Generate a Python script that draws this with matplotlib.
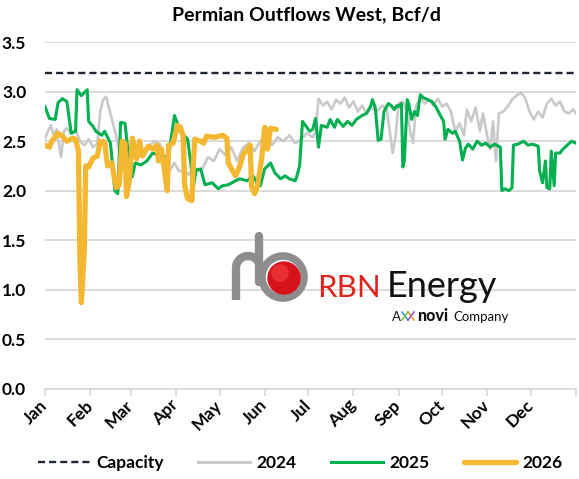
import numpy as np
import matplotlib
matplotlib.use("Agg")
import matplotlib.pyplot as plt
from matplotlib.lines import Line2D
from matplotlib.patches import Circle, Arc
import matplotlib.transforms as mtransforms

plt.rcParams['font.family'] = ['Lato', 'DejaVu Sans']

# ---------------- data (day of year, Bcf/d) ----------------
months = ["Jan", "Feb", "Mar", "Apr", "May", "Jun", "Jul", "Aug", "Sep", "Oct", "Nov", "Dec"]
month_start_days = [0, 31, 59, 90, 120, 151, 181, 212, 243, 273, 304, 334, 365]
capacity = 3.19

days_2024 = [0, 2, 4, 6, 8, 11, 13, 15, 18, 21, 24, 27, 30, 33, 36, 38, 40, 42, 44, 46, 49, 51, 53, 56,
             60, 64, 68, 72, 76, 79, 82, 86, 89, 92, 96, 99, 102, 105, 108, 112, 116, 120, 124, 128,
             132, 136, 140, 144, 148, 152, 156, 160, 164, 168, 172, 176, 180, 184, 186, 188, 191, 194,
             197, 200, 203, 206, 209, 212, 215, 218, 221, 224, 228, 232, 235, 237, 239, 241, 243, 246,
             249, 251, 253, 255, 258, 261, 264, 267, 270, 273, 276, 279, 282, 285, 288, 290, 293, 296,
             299, 301, 304, 306, 308, 310, 312, 315, 318, 321, 324, 327, 330, 333, 336, 339, 342, 345,
             348, 351, 354, 357, 360, 363, 365]
vals_2024 = [2.53, 2.60, 2.66, 2.56, 2.62, 2.34, 2.60, 2.63, 2.58, 2.62, 2.50, 2.46, 2.52, 2.44, 2.48,
             2.80, 2.92, 2.95, 2.83, 2.72, 2.55, 2.40, 2.35, 2.45, 2.40, 2.45, 2.40, 2.46, 2.50, 2.47,
             2.30, 2.21, 2.28, 2.20, 2.20, 2.16, 2.24, 2.20, 2.22, 2.34, 2.30, 2.42, 2.36, 2.44, 2.30,
             2.43, 2.48, 2.40, 2.50, 2.56, 2.46, 2.54, 2.50, 2.56, 2.48, 2.52, 2.58, 2.54, 2.60, 2.93,
             2.86, 2.90, 2.82, 2.92, 2.88, 2.94, 2.84, 2.90, 2.80, 2.86, 2.78, 2.84, 2.80, 2.86, 2.82,
             2.60, 2.38, 2.55, 2.88, 2.90, 2.80, 2.60, 2.48, 2.85, 2.94, 2.88, 2.92, 2.86, 2.93, 2.85,
             2.88, 2.80, 2.60, 2.68, 2.56, 2.82, 2.70, 2.84, 2.60, 2.78, 2.55, 2.42, 2.70, 2.30, 2.78,
             2.80, 2.85, 2.92, 2.96, 2.99, 2.94, 2.80, 2.72, 2.80, 2.74, 2.88, 2.93, 2.86, 2.90, 2.80,
             2.78, 2.82, 2.78]

days_2025 = [0, 3, 7, 9, 12, 15, 16, 18, 21, 22, 25, 29, 30, 33, 35, 39, 41, 45, 48, 50, 52, 55, 57, 60,
             62, 66, 70, 74, 78, 81, 85, 89, 93, 98, 100, 102, 104, 107, 110, 115, 119, 122, 126, 131,
             134, 139, 143, 146, 148, 151, 155, 158, 162, 165, 168, 172, 173, 175, 177, 180, 182, 184,
             186, 188, 190, 194, 196, 199, 201, 205, 208, 211, 214, 218, 221, 224, 225, 227, 229, 231,
             233, 236, 238, 240, 242, 243, 245, 246, 247, 249, 250, 252, 254, 256, 258, 260, 263, 266,
             269, 271, 274, 275, 277, 280, 282, 285, 287, 289, 291, 294, 297, 300, 303, 306, 309, 313,
             314, 316, 319, 321, 322, 325, 329, 332, 335, 339, 340, 342, 344, 345, 347, 348, 350, 351,
             354, 356, 359, 362, 365]
vals_2025 = [2.85, 2.73, 2.72, 2.89, 2.93, 2.90, 2.80, 2.58, 2.60, 3.02, 2.96, 3.02, 2.70, 2.65, 2.60,
             2.56, 2.60, 2.48, 2.00, 1.97, 2.69, 2.68, 2.40, 2.14, 2.28, 2.26, 2.30, 2.38, 2.36, 2.34,
             2.35, 2.76, 2.60, 2.52, 2.30, 2.04, 2.21, 2.22, 2.06, 2.08, 2.02, 2.05, 2.06, 2.10, 2.12,
             2.10, 2.15, 2.07, 2.05, 2.22, 2.28, 2.18, 2.12, 2.15, 2.12, 2.10, 2.14, 2.25, 2.70, 2.64,
             2.60, 2.62, 2.73, 2.44, 2.66, 2.64, 2.72, 2.64, 2.72, 2.65, 2.70, 2.66, 2.72, 2.76, 2.78,
             2.86, 2.92, 2.84, 2.51, 2.52, 2.80, 2.88, 2.86, 2.82, 2.86, 2.85, 2.88, 2.24, 2.30, 2.92,
             2.88, 2.72, 2.80, 2.76, 2.97, 2.94, 2.92, 2.90, 2.84, 2.78, 2.70, 2.52, 2.62, 2.58, 2.60,
             2.50, 2.31, 2.43, 2.47, 2.42, 2.50, 2.46, 2.48, 2.44, 2.47, 2.44, 2.00, 2.02, 2.00, 2.03,
             2.46, 2.47, 2.50, 2.46, 2.47, 2.45, 2.20, 2.08, 2.30, 2.03, 2.02, 2.40, 2.05, 2.38, 2.38,
             2.42, 2.46, 2.50, 2.48]

days_2026 = [0, 3, 5, 9, 12, 15, 19, 21, 23, 24, 25, 27, 28, 30, 33, 36, 38, 41, 43, 46, 48, 49, 51, 53,
             55, 56, 58, 60, 63, 65, 67, 71, 74, 77, 78, 80, 82, 84, 85, 88, 91, 93, 95, 96, 98, 101,
             102, 103, 107, 109, 111, 117, 122, 125, 126, 129, 131, 134, 136, 139, 141, 142, 144, 146,
             149, 151, 153, 155, 159]
vals_2026 = [2.46, 2.44, 2.51, 2.58, 2.55, 2.50, 2.53, 2.52, 2.40, 1.30, 0.87, 1.40, 2.25, 2.24, 2.33,
             2.35, 2.50, 2.49, 2.25, 2.28, 2.10, 2.03, 2.06, 2.50, 2.48, 1.94, 2.10, 2.53, 2.32, 2.50,
             2.35, 2.45, 2.42, 2.46, 2.30, 2.42, 2.22, 2.00, 2.46, 2.48, 2.66, 2.64, 2.55, 2.05, 1.92,
             1.90, 2.30, 2.52, 2.50, 2.48, 2.55, 2.54, 2.56, 2.53, 2.28, 2.20, 2.15, 2.25, 2.36, 2.42,
             2.46, 2.04, 1.97, 2.04, 2.33, 2.64, 2.42, 2.63, 2.62]

# ---------------- styles ----------------
c_cap = '#1f2636'
c_2024 = '#c9c9c9'
c_2025 = '#00b050'
c_2026 = '#f4b731'
c_grid = '#d9d9d9'
fs = 12.5

W, H = 579, 479
fig = plt.figure(figsize=(W / 100, H / 100), dpi=100)
ax = fig.add_axes([45 / W, 1 - 388.7 / H, 531 / W, (388.7 - 42.2) / H])

ax.plot(days_2024, vals_2024, color=c_2024, lw=1.9, zorder=3, solid_joinstyle='round')
ax.plot(days_2025, vals_2025, color=c_2025, lw=2.2, zorder=4, solid_joinstyle='round')
ax.plot(days_2026, vals_2026, color=c_2026, lw=3.8, zorder=5, solid_joinstyle='round',
        solid_capstyle='round')
ax.axhline(capacity, color=c_cap, lw=1.7, dashes=(3.0, 1.7), zorder=6)

ax.set_xlim(0, 365)
ax.set_ylim(0, 3.5)
ax.set_yticks(np.arange(0, 3.51, 0.5))
ax.set_yticklabels([f"{v:.1f}" for v in np.arange(0, 3.51, 0.5)], fontweight='bold', fontsize=fs)
ax.set_xticks(month_start_days)
ax.set_xticklabels(months + [""], rotation=45, ha='right', va='center', rotation_mode='anchor',
                   fontweight='bold', fontsize=fs)
offset = mtransforms.ScaledTranslation(4 / 100, 0, fig.dpi_scale_trans)
for lab in ax.get_xticklabels():
    lab.set_transform(lab.get_transform() + offset)

ax.tick_params(axis='y', length=0, pad=13.5, labelcolor='black')
ax.tick_params(axis='x', length=5, width=1.2, color=c_grid, direction='out', pad=5)
ax.yaxis.grid(True, color=c_grid, lw=1.3, zorder=0)
ax.set_axisbelow(True)
for s in ['top', 'left', 'right']:
    ax.spines[s].set_visible(False)
ax.spines['bottom'].set_color(c_grid)
ax.spines['bottom'].set_linewidth(1.3)

fig.text(306 / W, 1 - 15 / H, "Permian Outflows West, Bcf/d", ha='center', va='center',
         fontweight='bold', fontsize=14)

# legend
handles = [Line2D([], [], color=c_cap, lw=1.7, dashes=(3.0, 1.7)),
           Line2D([], [], color=c_2024, lw=2.2),
           Line2D([], [], color=c_2025, lw=2.2),
           Line2D([], [], color=c_2026, lw=3.8, solid_capstyle='round')]
fig.legend(handles, ["Capacity", "2024", "2025", "2026"], loc='center',
           bbox_to_anchor=(300 / W, 1 - 463 / H), ncol=4, frameon=False,
           prop={'weight': 'bold', 'size': fs}, handlelength=3.0, handletextpad=0.35,
           columnspacing=2.0)

# watermark logo (decoration)
lx = fig.add_axes([0, 0, 1, 1], zorder=10)
lx.set_xlim(0, W)
lx.set_ylim(H, 0)
lx.axis('off')
lx.patch.set_alpha(0)
pipe = '#8d8d8d'
lx.plot([259, 259], [236, 282], color=pipe, lw=6, solid_capstyle='round')
lx.add_patch(Arc((248, 268), 24, 24, theta1=180, theta2=360, color=pipe, lw=6))
lx.plot([236, 236], [268, 300], color=pipe, lw=6, solid_capstyle='butt')
lx.add_patch(Circle((283, 277), 21, fill=False, ec=pipe, lw=5.5))
lx.add_patch(Circle((284, 278), 16, color='#d8121b'))
lx.add_patch(Circle((280, 273), 8, color='#f03a3a', alpha=0.7))
lx.text(317, 297, "RBN", color='#e2231a', fontsize=22.5, fontweight='normal', ha='left',
        va='baseline')
lx.text(387, 297, "Energy", color='#111111', fontsize=26, fontweight='normal', ha='left',
        va='baseline')
lx.text(392, 321, "A", color='#111111', fontsize=9.5, ha='left', va='baseline')
for (x0, y0, x1, y1, c) in [(402, 312, 408, 320, '#3aa0d8'), (408, 312, 414, 320, '#f29b30'),
                            (402, 320, 408, 312, '#7cc242'), (408, 320, 414, 312, '#9b59b6')]:
    lx.plot([x0, x1], [y0, y1], color=c, lw=1.2)
lx.text(417, 321, "novi", color='#111111', fontsize=11.5, fontweight='black', ha='left',
        va='baseline')
lx.text(453, 321, "Company", color='#111111', fontsize=9.5, ha='left', va='baseline')

fig.savefig("out.png", dpi=100, facecolor='white')
